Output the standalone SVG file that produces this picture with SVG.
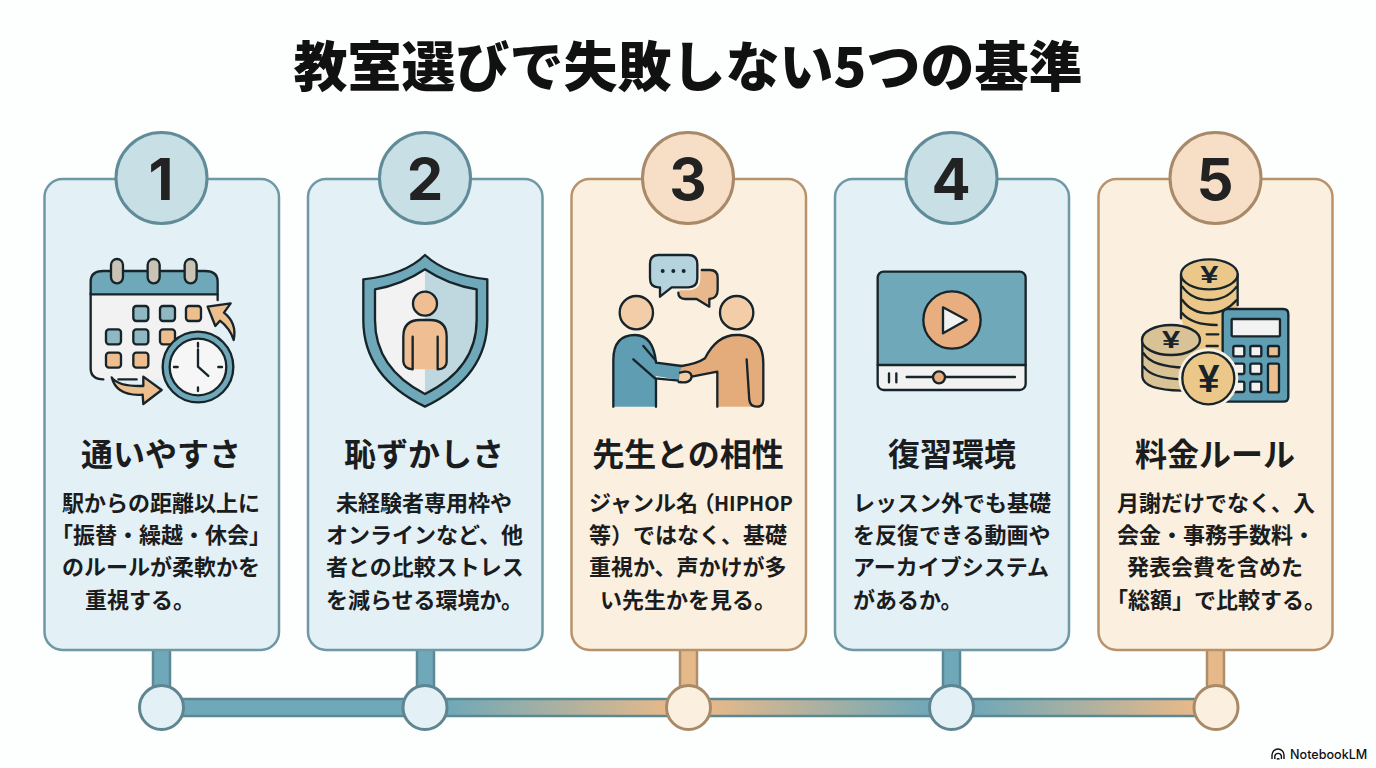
<svg xmlns="http://www.w3.org/2000/svg" width="1376" height="768" viewBox="0 0 1376 768">
<style>
text{font-family:"Noto Sans CJK JP","Noto Sans",sans-serif;fill:#1a1c1d}
.title{font-size:54px;font-weight:900;text-anchor:middle;fill:#111}
.head{font-size:32px;font-weight:700;text-anchor:middle}
.body{font-size:22px;font-weight:700}
.num{font-family:Inter,"Liberation Sans",sans-serif;font-size:58px;font-weight:700;text-anchor:middle;fill:#222}
.cb{fill:#E3F0F5;stroke:#6E98A4;stroke-width:2.500}
.co{fill:#FBF0E0;stroke:#B8926A;stroke-width:2.500}
.bb{fill:#C9DFE6;stroke:#5F8C98;stroke-width:3}
.bo{fill:#F6DFC6;stroke:#A98A68;stroke-width:3}
.db{fill:#E3F0F5;stroke:#5F8590;stroke-width:3}
.do{fill:#FBF0E0;stroke:#A98A68;stroke-width:3}
.st{fill:#6FA8B8;stroke:#5C8894;stroke-width:2.500}
.so{fill:#E6B98A;stroke:#AD8E6C;stroke-width:2.500}
.i{stroke:#17242A;stroke-width:7;stroke-linejoin:round;stroke-linecap:round}
.n{fill:none}
.te{fill:#6FA8B8}.tl{fill:#8FB8C2}.or{fill:#EDBE8E}.wh{fill:#F1F2F1}
.y{font-family:"Liberation Sans",sans-serif;font-weight:700;text-anchor:middle;fill:#17242A}
</style>
<defs>
<linearGradient id="g23" gradientUnits="userSpaceOnUse" x1="446" y1="0" x2="670" y2="0"><stop offset="0" stop-color="#6FA8B8"/><stop offset="1" stop-color="#E6B98A"/></linearGradient>
<linearGradient id="g34" gradientUnits="userSpaceOnUse" x1="710" y1="0" x2="930" y2="0"><stop offset="0" stop-color="#E6B98A"/><stop offset="1" stop-color="#6FA8B8"/></linearGradient>
<linearGradient id="g45" gradientUnits="userSpaceOnUse" x1="973" y1="0" x2="1190" y2="0"><stop offset="0" stop-color="#6FA8B8"/><stop offset="1" stop-color="#E6B98A"/></linearGradient>
</defs>
<rect width="1376" height="768" fill="#FDFEFE"/>
<text class="title" x="688" y="87">教室選びで失敗しない5つの基準</text>

<g id="connectors">
<rect class="st" x="153" y="648" width="17" height="45"/>
<rect class="st" x="417" y="648" width="17" height="45"/>
<rect class="so" x="680" y="648" width="17" height="45"/>
<rect class="st" x="943" y="648" width="17" height="45"/>
<rect class="so" x="1207" y="648" width="17" height="45"/>
<rect class="st" x="161" y="699" width="264" height="17"/>
<rect x="425" y="699" width="263" height="17" fill="url(#g23)" stroke="#5C8894" stroke-width="2.500"/>
<rect x="688" y="699" width="263" height="17" fill="url(#g34)" stroke="#5C8894" stroke-width="2.500"/>
<rect x="951" y="699" width="265" height="17" fill="url(#g45)" stroke="#5C8894" stroke-width="2.500"/>
</g>

<g id="node-1">
<rect class="cb" x="44.500" y="179" width="234.500" height="471" rx="18"/>
<circle class="bb" cx="161.500" cy="178" r="45.500"/>
<text class="num" x="161" y="200">1</text>
<g transform="translate(40 240) scale(.3333)">
<path class="wh" d="M152 160H533V180L500 418H190Q152 418 152 385Z"/>
<path class="i n" d="M190 418Q152 418 152 385V160M533 165V180M235 418H290"/>
<path class="i te" d="M152 163V125Q152 93 190 93H495Q533 93 533 125V163Z"/>
<rect class="i" fill="#C9C3B5" x="213" y="57" width="36" height="73" rx="18"/>
<rect class="i" fill="#C9C3B5" x="323" y="57" width="36" height="73" rx="18"/>
<rect class="i" fill="#C9C3B5" x="434" y="57" width="36" height="73" rx="18"/>
<g>
<rect class="tl i" x="280" y="198" width="45" height="45" rx="9"/><rect class="tl i" x="360" y="198" width="45" height="45" rx="9"/><rect class="or i" x="438" y="198" width="45" height="45" rx="9"/>
<rect class="tl i" x="198" y="268" width="45" height="45" rx="9"/><rect class="tl i" x="280" y="268" width="45" height="45" rx="9"/><rect class="or i" x="360" y="268" width="45" height="45" rx="9"/>
<rect class="or i" x="198" y="338" width="45" height="45" rx="9"/><rect class="or i" x="280" y="338" width="45" height="45" rx="9"/>
</g>
<path class="i or" d="M503 200L572 190L552 218Q592 250 581 300Q570 265 540 242L526 258Z"/>
<path class="i or" d="M215 412Q235 440 310 438V410L365 450L310 492L308 464Q230 470 215 412Z"/>
<circle class="i te" cx="474" cy="381" r="106"/>
<circle class="i" fill="#F5F6F5" cx="474" cy="381" r="85"/>
<path class="i n" d="M474 309V320M474 442V453M402 381H413M535 381H546"/>
<path class="i n" d="M474 328V380L505 408"/>
</g>
<text class="head" x="161" y="466">通いやすさ</text>
<text class="body" x="62" y="511">駅からの距離以上に</text>
<text class="body" x="51" y="543">「振替・繰越・休会」</text>
<text class="body" x="62" y="575">のルールが柔軟かを</text>
<text class="body" x="85" y="608">重視する。</text>
</g>

<g id="node-2">
<rect class="cb" x="308" y="179" width="234.500" height="471" rx="18"/>
<circle class="bb" cx="425" cy="178" r="45.500"/>
<text class="num" x="425" y="200">2</text>
<g transform="translate(330 240) scale(.3333)">
<path class="i te" d="M285 45Q350 105 472 118V240Q472 410 285 500Q100 410 100 240V118Q225 105 285 45Z"/>
<path class="wh" d="M285 88Q215 135 135 148V240Q135 385 285 462Z"/>
<path fill="#BFD8E0" d="M285 88Q355 135 440 148V240Q440 385 285 462Z"/>
<path class="i n" d="M285 88Q355 135 440 148V240Q440 385 285 462Q135 385 135 240V148Q215 135 285 88Z"/>
<circle class="i" fill="#EFBE93" cx="285" cy="191" r="36"/>
<path fill="#EFBE93" d="M220 365V290Q220 240 270 240H300Q350 240 350 290V365Q350 388 325 388H248Q222 388 220 365Z"/>
<path class="i n" d="M248 388Q222 386 220 365V290Q220 240 270 240H300Q350 240 350 290V365Q350 386 323 388M248 290V388M323 290V388"/>
</g>
<text class="head" x="424" y="466">恥ずかしさ</text>
<text class="body" x="336" y="511">未経験者専用枠や</text>
<text class="body" x="326" y="543">オンラインなど、他</text>
<text class="body" x="326" y="575">者との比較ストレス</text>
<text class="body" x="326" y="608">を減らせる環境か。</text>
</g>

<g id="node-3">
<rect class="co" x="571.500" y="179" width="234.500" height="471" rx="18"/>
<circle class="bo" cx="688" cy="178" r="45.500"/>
<text class="num" x="688" y="200">3</text>
<g transform="translate(590 240) scale(.3333)">
<path fill="#E8B88C" d="M335 90H360Q383 90 383 113V150Q383 175 358 177V200L320 177H285Q265 175 265 158L300 100Z"/>
<path class="i n" d="M335 90H360Q383 90 383 113V150Q383 175 358 177V200L320 177H285Q265 175 265 158"/>
<path fill="#B5D3DD" stroke="#FAF1E3" stroke-width="18" stroke-linejoin="round" d="M205 45H295Q322 45 322 72V115Q322 142 295 142H245L210 170V142H205Q180 142 180 115V72Q180 45 205 45Z"/>
<path class="i" fill="#B5D3DD" d="M205 45H295Q322 45 322 72V115Q322 142 295 142H245L210 170V142H205Q180 142 180 115V72Q180 45 205 45Z"/>
<circle cx="218" cy="93" r="6" fill="#17242A"/><circle cx="250" cy="93" r="6" fill="#17242A"/><circle cx="281" cy="93" r="6" fill="#17242A"/>
<circle class="i" fill="#F2CDA8" cx="139" cy="218" r="50"/>
<circle class="i" fill="#F2CDA8" cx="440" cy="218" r="50"/>
<path fill="#5F9DB3" d="M70 500V360Q70 285 135 285Q195 285 198 368L275 378L270 420L198 408V500Z"/>
<path class="i n" d="M70 500V360Q70 285 135 285Q190 285 198 368L275 378M198 415V500M160 318L198 362M130 358L195 415L268 422"/>
<path fill="#E5AC7B" d="M275 378Q320 372 345 355Q380 285 440 285H450Q520 290 520 370V480Q520 500 500 500H382V395L305 412L270 395Z"/>
<path class="i n" d="M275 378Q320 372 345 355Q380 285 440 285H450Q520 290 520 370V480Q520 500 500 500Q480 500 478 480L470 358M382 500V395L305 410"/>
<path class="i" fill="#F2CDA8" d="M270 398Q302 388 305 410Q302 432 266 426"/>
</g>
<text class="head" x="688" y="466">先生との相性</text>
<text class="body" x="589" y="511">ジャンル名<tspan dx="5" style="font-feature-settings:'palt'">（</tspan><tspan font-size="20">HIPHOP</tspan></text>
<text class="body" x="589" y="543">等）ではなく、基礎</text>
<text class="body" x="589" y="575">重視か、声かけが多</text>
<text class="body" x="600" y="608">い先生かを見る。</text>
</g>

<g id="node-4">
<rect class="cb" x="835" y="179" width="234" height="471" rx="18"/>
<circle class="bb" cx="951.500" cy="178" r="45.500"/>
<text class="num" x="951" y="200">4</text>
<g transform="translate(860 250) scale(.3333)">
<rect class="te" x="53" y="65" width="444" height="355" rx="18"/>
<path class="wh" d="M53 345H497V402Q497 420 479 420H71Q53 420 53 402Z"/>
<rect class="i n" x="53" y="65" width="444" height="355" rx="18"/>
<path class="i n" d="M53 345H497M87 370V397M109 370V397M140 381H465"/>
<circle class="i" fill="#E8AE80" cx="276" cy="210" r="86"/>
<path class="i wh" d="M249 172L320 210L249 250Z"/>
<circle class="i" fill="#E8AE80" cx="237" cy="382" r="18"/>
</g>
<text class="head" x="952" y="466">復習環境</text>
<text class="body" x="853" y="511">レッスン外でも基礎</text>
<text class="body" x="853" y="543">を反復できる動画や</text>
<text class="body" x="853" y="575">アーカイブシステム</text>
<text class="body" x="853" y="608">があるか。</text>
</g>

<g id="node-5">
<rect class="co" x="1098.500" y="179" width="234" height="471" rx="18"/>
<circle class="bo" cx="1215.500" cy="178" r="45.500"/>
<text class="num" x="1215" y="200">5</text>
<g transform="translate(1125 245) scale(.3333)">
<path fill="#EBC88A" d="M168 88H338V200L300 320H200L168 220Z"/>
<path class="i n" d="M168 88V220M338 88V180M172 125Q200 165 253 165Q305 165 335 125M172 165Q200 205 253 205Q300 205 335 165M172 205Q200 240 275 240M245 268H280M245 303H278"/>
<ellipse class="i" fill="#EBC88A" cx="253" cy="88" rx="85" ry="45"/>
<text class="y" transform="translate(253 113) scale(1.400 1)" font-size="70">¥</text>
<path class="i" fill="#5F9DB3" d="M308 192H475Q490 192 490 207V455Q490 470 475 470H308Q293 470 293 455V207Q293 192 308 192Z"/>
<rect class="i wh" x="320" y="222" width="145" height="52" rx="3"/>
<g>
<rect class="i wh" x="325" y="303" width="33" height="31" rx="5"/><rect class="i wh" x="376" y="303" width="33" height="31" rx="5"/><rect class="i or" x="429" y="303" width="33" height="31" rx="5"/>
<rect class="i wh" x="325" y="356" width="33" height="31" rx="5"/><rect class="i wh" x="376" y="356" width="33" height="31" rx="5"/><rect class="i or" x="429" y="356" width="33" height="86" rx="5"/>
<rect class="i wh" x="325" y="410" width="33" height="31" rx="5"/><rect class="i wh" x="376" y="410" width="33" height="31" rx="5"/>
</g>
<path fill="#D9C296" d="M52 285H224V340L210 435H138Q52 435 52 395Z"/>
<path class="i n" d="M52 285V395Q56 435 170 437M56 325Q80 365 180 368M56 365Q80 400 170 403"/>
<ellipse class="i" fill="#D9C296" cx="138" cy="285" rx="87" ry="45"/>
<text class="y" transform="translate(138 310) scale(1.400 1)" font-size="70">¥</text>
<circle fill="#FAF1E3" cx="250" cy="400" r="90"/>
<circle class="i" fill="#EBC88A" cx="250" cy="400" r="78"/>
<text class="y" x="251" y="442" font-size="116">¥</text>
</g>
<text class="head" x="1215" y="466">料金ルール</text>
<text class="body" x="1117" y="511">月謝だけでなく、入</text>
<text class="body" x="1117" y="543">会金・事務手数料・</text>
<text class="body" x="1127" y="575">発表会費を含めた</text>
<text class="body" x="1106" y="608">「総額」で比較する。</text>
</g>

<g id="timeline-dots">
<circle class="db" cx="161.500" cy="707.500" r="22"/>
<circle class="db" cx="425" cy="707.500" r="22"/>
<circle class="do" cx="688.500" cy="707.500" r="22"/>
<circle class="db" cx="951.500" cy="707.500" r="22"/>
<circle class="do" cx="1216" cy="707.500" r="22"/>
</g>

<g id="brand">
<path fill="none" stroke="#111" stroke-width="1.400" d="M1272 759V755A6 6 0 0 1 1284 755V759M1274.800 759V756A3.400 3.400 0 0 1 1281.400 756V759M1277 759.500A1.200 1.200 0 0 1 1279.300 759.500"/>
<text x="1290" y="758.500" style="font-family:Inter,'Noto Sans',sans-serif;font-size:12.600px;font-weight:500;fill:#111">NotebookLM</text>
</g>
</svg>
